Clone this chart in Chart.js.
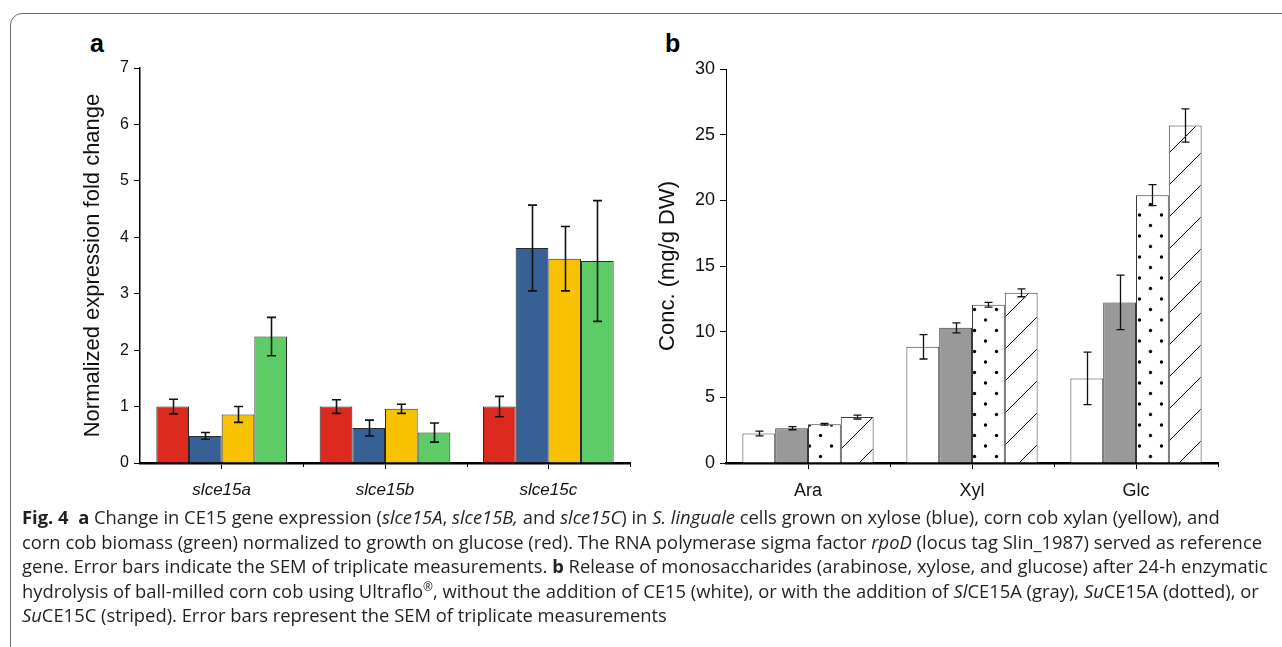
<!DOCTYPE html>
<html>
<head>
<meta charset="utf-8">
<script src="https://cdn.jsdelivr.net/npm/chart.js@4.4.1/dist/chart.umd.min.js"></script>
<style>
  body { margin: 0; background: #fff; width: 1282px; height: 647px; overflow: hidden; position: relative; }
  .frame { position: absolute; left: 10px; top: 13px; width: 1300px; height: 700px; border: 1.5px solid #6e6e6e; border-radius: 12px; }
  .panel-label { position: absolute; top: 31px; font: bold 25px 'Liberation Sans', Arial, sans-serif; line-height: 25px; }
  #chartA { position: absolute; left: 0; top: 0; }
  #chartB { position: absolute; left: 650px; top: 0; }
  .caption { position: absolute; left: 22px; top: 505px; font: 18.5px 'Open Sans', sans-serif; color: #231f20; line-height: 24.6px; transform-origin: 0 0; white-space: nowrap; }
  .caption b { font-weight: 700; }
  .caption sup { font-size: 12px; line-height: 0; }
</style>
</head>
<body>
<div class="frame"></div>
<div class="panel-label" style="left: 90px;">a</div>
<div class="panel-label" style="left: 665px;">b</div>
<canvas id="chartA" width="655" height="520"></canvas>
<canvas id="chartB" width="632" height="520"></canvas>
<div class="caption">
  <div><span><b>Fig. 4</b>&nbsp; <b>a</b> Change in CE15 gene expression (<i>slce15A</i>, <i>slce15B,</i> and <i>slce15C</i>) in <i>S. linguale</i> cells grown on xylose (blue), corn cob xylan (yellow), and</span></div>
  <div><span id="refLine">corn cob biomass (green) normalized to growth on glucose (red). The RNA polymerase sigma factor <i>rpoD</i> (locus tag Slin_1987) served as reference</span></div>
  <div><span>gene. Error bars indicate the SEM of triplicate measurements. <b>b</b> Release of monosaccharides (arabinose, xylose, and glucose) after 24-h enzymatic</span></div>
  <div><span>hydrolysis of ball-milled corn cob using Ultraflo<sup>®</sup>, without the addition of CE15 (white), or with the addition of <i>Sl</i>CE15A (gray), <i>Su</i>CE15A (dotted), or</span></div>
  <div><span><i>Su</i>CE15C (striped). Error bars represent the SEM of triplicate measurements</span></div>
</div>
<script>
// Panel a: gene expression, fold change vs glucose
const geneLabels = ['slce15a', 'slce15b', 'slce15c'];
const glucose = [1.0, 1.0, 1.0];
const glucoseErr = [0.13, 0.12, 0.18];
const xylose = [0.48, 0.62, 3.81];
const xyloseErr = [0.06, 0.14, 0.76];
const xylan = [0.86, 0.96, 3.62];
const xylanErr = [0.14, 0.08, 0.57];
const biomass = [2.24, 0.54, 3.58];
const biomassErr = [0.34, 0.17, 1.07];
const foldTicks = [0, 1, 2, 3, 4, 5, 6, 7];

// Panel b: released monosaccharides (mg/g DW)
const sugarLabels = ['Ara', 'Xyl', 'Glc'];
const noCE15 = [2.25, 8.85, 6.44];
const noCE15Err = [0.18, 0.93, 2.0];
const slCE15A = [2.65, 10.29, 12.23];
const slCE15AErr = [0.12, 0.38, 2.07];
const suCE15A = [2.95, 12.05, 20.39];
const suCE15AErr = [0.07, 0.18, 0.8];
const suCE15C = [3.5, 12.96, 25.7];
const suCE15CErr = [0.15, 0.3, 1.27];
const concTicks = [0, 5, 10, 15, 20, 25, 30];

const FONT = "'Liberation Sans', Arial, sans-serif";

const dotPattern = () => {
  const c = document.createElement('canvas');
  c.width = 22;
  c.height = 21;
  const g = c.getContext('2d');
  g.fillStyle = '#fff';
  g.fillRect(0, 0, 22, 21);
  g.fillStyle = '#000';
  [[5.5, 5], [16.5, 15.5]].forEach(([x, y]) => {
    g.beginPath();
    g.arc(x, y, 1.7, 0, Math.PI * 2);
    g.fill();
  });
  return g.createPattern(c, 'repeat');
};

const stripePattern = () => {
  const c = document.createElement('canvas');
  c.width = 32;
  c.height = 32;
  const g = c.getContext('2d');
  g.fillStyle = '#fff';
  g.fillRect(0, 0, 32, 32);
  g.strokeStyle = '#000';
  g.lineWidth = 1;
  g.beginPath();
  g.moveTo(0, 32); g.lineTo(32, 0);
  g.moveTo(-2, 2); g.lineTo(2, -2);
  g.moveTo(30, 34); g.lineTo(34, 30);
  g.stroke();
  return g.createPattern(c, 'repeat');
};

// draws mean +/- SEM whiskers on top of each bar
const errorBars = {
  id: 'errorBars',
  afterDatasetsDraw(chart, args, opts) {
    const { ctx } = chart;
    const y = chart.scales.y;
    ctx.save();
    ctx.strokeStyle = '#111';
    ctx.lineWidth = opts.width;
    chart.data.datasets.forEach((ds, i) => {
      chart.getDatasetMeta(i).data.forEach((bar, j) => {
        const v = ds.data[j];
        const e = ds.errors[j];
        const top = y.getPixelForValue(v + e);
        const bottom = y.getPixelForValue(v - e);
        const x = Math.round(bar.x) + 0.5;
        ctx.beginPath();
        ctx.moveTo(x, top);
        ctx.lineTo(x, bottom);
        ctx.moveTo(x - opts.cap, top);
        ctx.lineTo(x + opts.cap, top);
        ctx.moveTo(x - opts.cap, bottom);
        ctx.lineTo(x + opts.cap, bottom);
        ctx.stroke();
      });
    });
    ctx.restore();
  },
};

// small ticks between the groups, like the original
const groupTicks = {
  id: 'groupTicks',
  afterDraw(chart) {
    const x = chart.scales.x;
    const { ctx, chartArea } = chart;
    ctx.save();
    ctx.strokeStyle = '#000';
    ctx.lineWidth = 1;
    for (let i = 1; i <= x.ticks.length; i++) {
      const px = Math.round(x.getPixelForValue(i - 0.5)) + 0.5;
      ctx.beginPath();
      ctx.moveTo(px, chartArea.bottom);
      ctx.lineTo(px, chartArea.bottom + 4);
      ctx.stroke();
    }
    ctx.restore();
  },
};

const makeOptions = (cfg) => ({
  responsive: false,
  animation: false,
  layout: { padding: cfg.padding },
  plugins: {
    legend: { display: false },
    tooltip: { enabled: false },
    errorBars: cfg.err,
  },
  scales: {
    x: {
      afterFit: (s) => { s.height = 40; },
      grid: { offset: false, drawOnChartArea: false, drawTicks: true, tickLength: 6, color: '#000', lineWidth: 1 },
      border: { display: true, color: '#000', width: 2.5 },
      ticks: { color: '#111', padding: cfg.xPad, font: cfg.xFont },
    },
    y: {
      min: cfg.yTicks[0],
      max: cfg.yTicks[cfg.yTicks.length - 1],
      afterFit: (s) => { s.width = cfg.yWidth; },
      afterBuildTicks: (s) => { s.ticks = cfg.yTicks.map((value) => ({ value })); },
      grid: { drawOnChartArea: false, drawTicks: true, tickLength: 6, color: '#000', lineWidth: 1 },
      border: { display: true, color: '#000', width: cfg.yBorder },
      ticks: { color: '#111', padding: 5, font: { family: FONT, size: cfg.yTickSize } },
      title: {
        display: true,
        text: cfg.title,
        color: '#111',
        font: { family: FONT, size: 22 },
        padding: { top: cfg.titlePad, bottom: 0 },
      },
    },
  },
});

const barA = (data, errors, color) => ({
  data,
  errors,
  backgroundColor: color,
  borderColor: '#2a2a2a',
  borderWidth: 1,
  categoryPercentage: 0.8,
  barPercentage: 1.0,
});

// eslint-disable-next-line no-undef
new Chart(document.getElementById('chartA'), {
  type: 'bar',
  data: {
    labels: geneLabels,
    datasets: [
      barA(glucose, glucoseErr, '#dc2a1e'),
      barA(xylose, xyloseErr, '#376096'),
      barA(xylan, xylanErr, '#f8c200'),
      barA(biomass, biomassErr, '#5dcc66'),
    ],
  },
  options: makeOptions({
    padding: { top: 68, right: 25, bottom: 17, left: 0 },
    err: { width: 1.6, cap: 4.5 },
    xPad: 11,
    xFont: { family: FONT, size: 17, style: 'italic' },
    yTicks: foldTicks,
    yWidth: 140,
    yBorder: 1.5,
    yTickSize: 16,
    title: 'Normalized expression fold change',
    titlePad: 80,
  }),
  plugins: [errorBars, groupTicks],
});

const barB = (data, errors, fill) => ({
  data,
  errors,
  backgroundColor: fill,
  borderColor: '#3a3a3a',
  borderWidth: 1,
  categoryPercentage: 0.8,
  barPercentage: 1.0,
});

// eslint-disable-next-line no-undef
new Chart(document.getElementById('chartB'), {
  type: 'bar',
  data: {
    labels: sugarLabels,
    datasets: [
      barB(noCE15, noCE15Err, '#ffffff'),
      barB(slCE15A, slCE15AErr, '#999999'),
      barB(suCE15A, suCE15AErr, dotPattern()),
      barB(suCE15C, suCE15CErr, stripePattern()),
    ],
  },
  options: makeOptions({
    padding: { top: 69, right: 64, bottom: 17, left: 0 },
    err: { width: 1.3, cap: 4 },
    xPad: 11,
    xFont: { family: FONT, size: 18 },
    yTicks: concTicks,
    yWidth: 76,
    yBorder: 1,
    yTickSize: 18,
    title: 'Conc. (mg/g DW)',
    titlePad: 5,
  }),
  plugins: [errorBars, groupTicks],
});

// squeeze caption so that line 2 spans the same width as in the figure
const cap = document.querySelector('.caption');
const k = 1240 / document.getElementById('refLine').getBoundingClientRect().width;
cap.style.transform = `scaleX(${k})`;
</script>
</body>
</html>
